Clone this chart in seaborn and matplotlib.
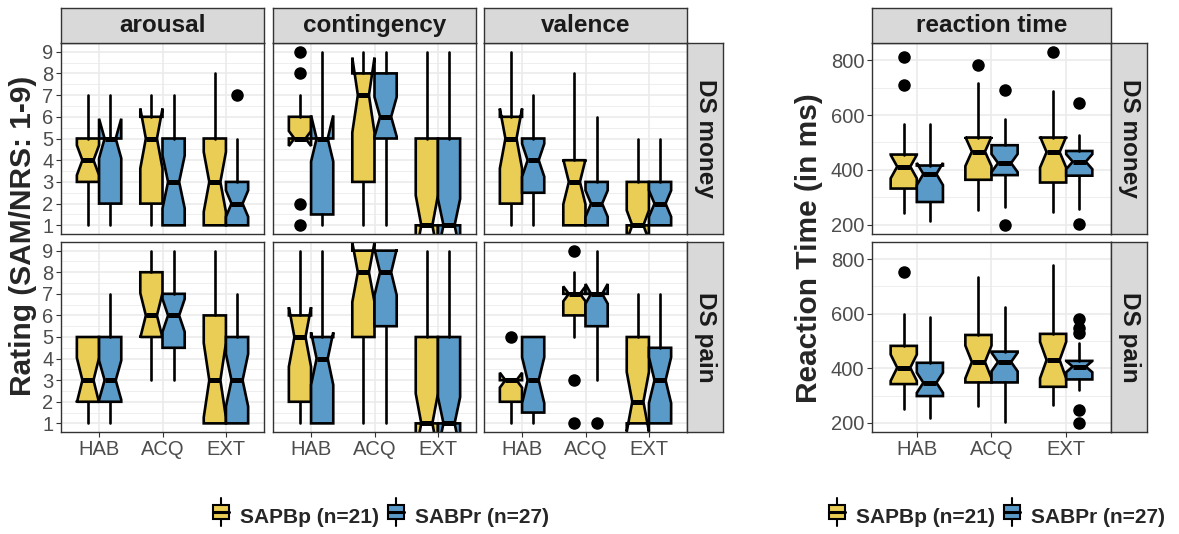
import numpy as np
import matplotlib
matplotlib.use("Agg")
import matplotlib.pyplot as plt
import seaborn as sns
from matplotlib.legend_handler import HandlerBase
from matplotlib.patches import Rectangle, Patch
from matplotlib.lines import Line2D

# --- data ---
phases = ["HAB", "ACQ", "EXT"]
groups = ["SAPBp (n=21)", "SABPr (n=27)"]
group_n = [21, 27]
rating_vars = ["arousal", "contingency", "valence"]
stimuli = ["DS money", "DS pain"]

# each box: (lower whisker, q1, median, q3, upper whisker); order HAB-y, HAB-b, ACQ-y, ACQ-b, EXT-y, EXT-b
arousal_money = [(1, 3, 4, 5, 7), (1, 2, 5, 5, 7), (1, 2, 5, 6, 7), (1, 1, 3, 5, 7), (1, 1, 3, 5, 8), (1, 1, 2, 3, 5)]
arousal_money_out = [[], [], [], [], [], [7]]
contingency_money = [(5, 5, 5, 6, 7), (1, 1.5, 5, 5, 9), (1, 3, 7, 8, 9), (1, 5, 6, 8, 9), (1, 1, 1, 5, 9), (1, 1, 1, 5, 9)]
contingency_money_out = [[9, 8, 2, 1], [], [], [], [], []]
valence_money = [(1, 2, 5, 6, 9), (1, 2.5, 4, 5, 7), (1, 1, 3, 4, 8), (1, 1, 2, 3, 6), (1, 1, 1, 3, 5), (1, 1, 2, 3, 5)]
valence_money_out = [[], [], [], [], [], []]

arousal_pain = [(1, 2, 3, 5, 5), (1, 2, 3, 5, 7), (3, 5, 6, 8, 9), (3, 4.5, 6, 7, 9), (1, 1, 3, 6, 9), (1, 1, 3, 5, 7)]
arousal_pain_out = [[], [], [], [], [], []]
contingency_pain = [(1, 2, 5, 6, 9), (1, 1, 4, 5, 9), (1, 5, 8, 9, 9), (1, 5.5, 8, 9, 9), (1, 1, 1, 5, 9), (1, 1, 1, 5, 9)]
contingency_pain_out = [[], [], [], [], [], []]
valence_pain = [(1, 2, 3, 3, 3), (1, 1.5, 3, 5, 5), (5, 6, 7, 7, 8), (3, 5.5, 7, 7, 9), (1, 1, 2, 5, 7), (1, 1, 3, 4.5, 7)]
valence_pain_out = [[5], [], [9, 3, 1], [1], [], []]

rt_money = [(242, 332, 412, 456, 567), (215, 283, 385, 416, 567), (255, 364, 467, 518, 717),
            (265, 381, 425, 490, 586), (246, 354, 465, 518, 689), (258, 379, 430, 469, 527)]
rt_money_out = [[812, 710], [], [783], [690, 198], [831], [644, 202]]
rt_pain = [(251, 342, 402, 482, 599), (216, 298, 347, 420, 586), (262, 348, 423, 522, 734),
           (204, 348, 423, 461, 626), (265, 332, 430, 526, 778), (322, 359, 406, 427, 491)]
rt_pain_out = [[751], [], [], [], [], [580, 547, 528, 247, 200]]

rating_stats = [[arousal_money, contingency_money, valence_money],
                [arousal_pain, contingency_pain, valence_pain]]
rating_outs = [[arousal_money_out, contingency_money_out, valence_money_out],
               [arousal_pain_out, contingency_pain_out, valence_pain_out]]
rt_stats = [rt_money, rt_pain]
rt_outs = [rt_money_out, rt_pain_out]

# --- style ---
sns.set_theme(style="white")
plt.rcParams['font.family'] = ['Liberation Sans', 'DejaVu Sans']
palette = sns.color_palette(["#EACD54", "#5A9AC8"])
GRID = "#EBEBEB"
DARK = "#333333"

W, H = 1179, 534
fig = plt.figure(figsize=(W / 100, H / 100), dpi=100)


def px_axes(x0, y0, x1, y1):
    return fig.add_axes([x0 / W, 1 - y1 / H, (x1 - x0) / W, (y1 - y0) / H])


def strip(x0, y0, x1, y1, label, rotation=0):
    s = px_axes(x0, y0, x1, y1)
    s.set_facecolor("#D9D9D9")
    s.set_xticks([])
    s.set_yticks([])
    for sp in s.spines.values():
        sp.set_color(DARK)
        sp.set_linewidth(1.0)
    s.text(0.5, 0.5, label, ha="center", va="center", rotation=rotation,
           fontsize=17.5, fontweight="bold", color="#1A1A1A", transform=s.transAxes)


def draw_panel(ax, stats, outs, ylim, major, minor):
    bstats, pos = [], []
    for k, (s, o) in enumerate(zip(stats, outs)):
        p, g = divmod(k, 2)
        lo, q1, med, q3, hi = s
        half = 1.58 * (q3 - q1) / np.sqrt(group_n[g])
        bstats.append(dict(whislo=lo, q1=q1, med=med, q3=q3, whishi=hi,
                           cilo=med - half, cihi=med + half, fliers=o))
        pos.append(p + (g - 0.5) * 0.35)
    arts = ax.bxp(bstats, positions=pos, widths=0.35, shownotches=True, showcaps=False,
                  patch_artist=True,
                  boxprops=dict(edgecolor="black", linewidth=1.9),
                  whiskerprops=dict(color="black", linewidth=1.9),
                  medianprops=dict(color="black", linewidth=3.6),
                  flierprops=dict(marker="o", markerfacecolor="black", markeredgecolor="black",
                                  markersize=8, linestyle="none"))
    for k, b in enumerate(arts["boxes"]):
        b.set_facecolor(palette[k % 2])
    ax.set_xlim(-0.6, 2.6)
    ax.set_ylim(*ylim)
    ax.set_xticks(range(len(phases)))
    ax.set_xticklabels(phases)
    ax.set_yticks(major)
    ax.set_yticks(minor, minor=True)
    ax.yaxis.grid(True, which="major", color=GRID, lw=1.2)
    ax.yaxis.grid(True, which="minor", color=GRID, lw=0.6)
    ax.xaxis.grid(True, which="major", color=GRID, lw=1.2)
    ax.set_axisbelow(True)
    ax.tick_params(which="major", length=3.5, width=0.8, color=DARK, labelcolor="#4D4D4D",
                   labelsize=14.5, pad=2, left=True, bottom=True)
    ax.tick_params(which="minor", length=0)
    for sp in ax.spines.values():
        sp.set_color(DARK)
        sp.set_linewidth(1.0)


# --- rating panels ---
col_x = [(61, 264), (273, 476), (484, 687)]
row_y = [(43, 234), (242, 432)]
for r in range(2):
    for c in range(3):
        ax = px_axes(col_x[c][0], row_y[r][0], col_x[c][1], row_y[r][1])
        draw_panel(ax, rating_stats[r][c], rating_outs[r][c], (0.6, 9.4),
                   list(range(1, 10)), list(np.arange(1.5, 9, 1.0)))
        if c > 0:
            ax.tick_params(labelleft=False, left=False)
        if r == 0:
            ax.tick_params(labelbottom=False, bottom=False)
for c in range(3):
    strip(col_x[c][0], 8, col_x[c][1], 43, rating_vars[c])
for r in range(2):
    strip(687, row_y[r][0], 723, row_y[r][1], stimuli[r], rotation=-90)

# --- reaction time panels ---
rt_all = [v for st in rt_stats for s in st for v in s] + [v for ot in rt_outs for o in ot for v in o]
lo, hi = min(rt_all), max(rt_all)
rt_lim = (lo - 0.05 * (hi - lo), hi + 0.05 * (hi - lo))
for r in range(2):
    ax = px_axes(872, row_y[r][0], 1111, row_y[r][1])
    draw_panel(ax, rt_stats[r], rt_outs[r], rt_lim, [200, 400, 600, 800], [300, 500, 700])
    if r == 0:
        ax.tick_params(labelbottom=False, bottom=False)
    strip(1111, row_y[r][0], 1147, row_y[r][1], stimuli[r], rotation=-90)
strip(872, 8, 1111, 43, "reaction time")

# --- axis titles ---
fig.text(23 / W, 1 - 236 / H, "Rating (SAM/NRS: 1-9)", rotation=90, ha="center", va="center",
         fontsize=21.5, fontweight="bold")
fig.text(809 / W, 1 - 248 / H, "Reaction Time (in ms)", rotation=90, ha="center", va="center",
         fontsize=21.5, fontweight="bold")


# --- legends with boxplot key glyphs ---
class BoxKey(HandlerBase):
    def create_artists(self, legend, orig, xd, yd, w, h, fs, trans):
        cx = xd + w / 2
        bw = w * 0.8
        box = Rectangle((cx - bw / 2, yd + h * 0.12), bw, h * 0.76, facecolor=orig.get_facecolor(),
                        edgecolor="black", lw=1.5, transform=trans)
        med = Line2D([cx - bw / 2, cx + bw / 2], [yd + h * 0.5] * 2, color="black", lw=2.2, transform=trans)
        wlo = Line2D([cx, cx], [yd - h * 0.25, yd + h * 0.12], color="black", lw=1.5, transform=trans)
        whi = Line2D([cx, cx], [yd + h * 0.88, yd + h * 1.25], color="black", lw=1.5, transform=trans)
        return [wlo, whi, box, med]


handles = [Patch(facecolor=palette[i]) for i in range(2)]
for cx in (380, 996):
    fig.legend(handles, groups, loc="center", bbox_to_anchor=(cx / W, 1 - 517 / H), ncol=2,
               frameon=False, handler_map={Patch: BoxKey()}, handlelength=0.95, handleheight=1.0,
               handletextpad=0.45, columnspacing=0.35, prop=dict(size=15, weight="bold"))

fig.savefig("out.png", dpi=100)
